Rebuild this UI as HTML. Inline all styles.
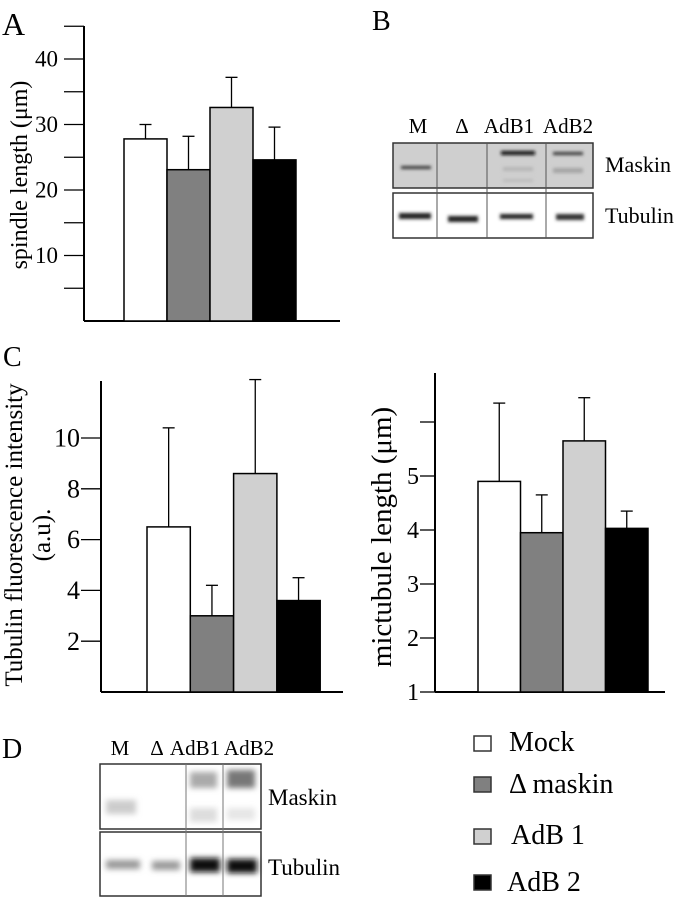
<!DOCTYPE html>
<html><head><meta charset="utf-8"><style>
html,body{margin:0;padding:0;background:#fff}
svg{display:block;font-family:"Liberation Serif",serif}
</style></head><body>
<svg id="fig" width="681" height="899" viewBox="0 0 681 899">
<defs>
<filter id="bl" x="-20%" y="-100%" width="140%" height="300%"><feGaussianBlur stdDeviation="1.6"/></filter>
<filter id="bl2" x="-20%" y="-100%" width="140%" height="300%"><feGaussianBlur stdDeviation="3"/></filter>
</defs>
<text x="2" y="35" font-size="32">A</text>
<text x="372" y="30" font-size="28">B</text>
<text x="3" y="366" font-size="28">C</text>
<text x="2" y="758" font-size="28">D</text>
<g id="chartA"></g>
<g id="chartC1"></g>
<g id="chartC2"></g>

<!-- Blot B -->
<g>
<text x="418" y="133" font-size="21" text-anchor="middle">M</text>
<text x="462" y="133" font-size="21" text-anchor="middle">Δ</text>
<text x="509" y="133" font-size="21" text-anchor="middle">AdB1</text>
<text x="568" y="133" font-size="21" text-anchor="middle">AdB2</text>
<rect x="393" y="143" width="200" height="45" fill="#cfcfcf" stroke="#333" stroke-width="1.5"/>
<g filter="url(#bl)">
<rect x="401" y="166" width="30" height="3" fill="#333"/>
<rect x="501" y="151" width="34" height="4" fill="#111"/>
<rect x="553" y="152" width="30" height="3" fill="#333"/>
<rect x="503" y="167" width="30" height="4" fill="#b5b5b5"/>
<rect x="553" y="168" width="30" height="5" fill="#a5a5a5"/>
<rect x="503" y="179" width="30" height="3" fill="#bbb"/>
</g>
<rect x="393" y="193" width="200" height="45" fill="#fff" stroke="#333" stroke-width="1.5"/>
<g filter="url(#bl)">
<rect x="399" y="213" width="32" height="6" fill="#222"/>
<rect x="448" y="216" width="30" height="6" fill="#222"/>
<rect x="500" y="214" width="33" height="5" fill="#222"/>
<rect x="556" y="214" width="28" height="6" fill="#333"/>
</g>
<g stroke="#555" stroke-width="1">
<line x1="437" y1="143" x2="437" y2="238"/><line x1="487" y1="143" x2="487" y2="238"/><line x1="546" y1="143" x2="546" y2="238"/>
</g>
<text x="605" y="172" font-size="22">Maskin</text>
<text x="605" y="223" font-size="22">Tubulin</text>
</g>

<!-- Blot D -->
<g>
<text x="120" y="755" font-size="21" text-anchor="middle">M</text>
<text x="157" y="755" font-size="21" text-anchor="middle">Δ</text>
<text x="195" y="755" font-size="21" text-anchor="middle">AdB1</text>
<text x="249" y="755" font-size="21" text-anchor="middle">AdB2</text>
<rect x="100" y="764" width="161" height="65" fill="#fff" stroke="#333" stroke-width="1.5"/>
<g filter="url(#bl2)">
<rect x="106" y="800" width="30" height="14" fill="#ccc"/>
<rect x="190" y="772" width="27" height="16" fill="#aaa"/>
<rect x="227" y="770" width="28" height="18" fill="#777"/>
<rect x="190" y="808" width="27" height="14" fill="#ddd"/>
<rect x="227" y="808" width="28" height="12" fill="#e6e6e6"/>
</g>
<rect x="100" y="832" width="161" height="64" fill="#fff" stroke="#333" stroke-width="1.5"/>
<g filter="url(#bl2)">
<rect x="106" y="860" width="34" height="9" fill="#999"/>
<rect x="152" y="861" width="28" height="9" fill="#999"/>
<rect x="190" y="858" width="30" height="14" fill="#111"/>
<rect x="227" y="859" width="30" height="14" fill="#111"/>
</g>
<g stroke="#777" stroke-width="1">
<line x1="186" y1="764" x2="186" y2="896"/><line x1="223" y1="764" x2="223" y2="896"/>
</g>
<text x="268" y="805" font-size="23">Maskin</text>
<text x="268" y="875" font-size="23">Tubulin</text>
</g>

<!-- Legend -->
<g>
<g><rect x="474" y="736" width="17" height="15" fill="#fff" stroke="#333" stroke-width="1.5"/><text x="509" y="751" font-size="28">Mock</text></g>
<g><rect x="474" y="777" width="17" height="15" fill="#808080" stroke="#333" stroke-width="1.5"/><text x="509" y="793" font-size="28">Δ maskin</text></g>
<g><rect x="474" y="829" width="17" height="15" fill="#d0d0d0" stroke="#333" stroke-width="1.5"/><text x="511" y="844" font-size="28">AdB 1</text></g>
<g><rect x="474" y="875" width="17" height="15" fill="#000" stroke="#333" stroke-width="1.5"/><text x="507" y="891" font-size="28">AdB 2</text></g>
</g>
</svg>
<script>
const categories = ["Mock", "Δ maskin", "AdB 1", "AdB 2"];
const colors = ["#ffffff", "#808080", "#d0d0d0", "#000000"];
const spindleValues = [27.8, 23.1, 32.6, 24.6];
const spindleErrors = [2.2, 5.1, 4.6, 5.0];
const spindleTicks = [10, 20, 30, 40];
const spindleMinor = [5, 15, 25, 35, 45];
const fluorValues = [6.5, 3.0, 8.6, 3.6];
const fluorErrors = [3.9, 1.2, 3.7, 0.9];
const fluorTicks = [2, 4, 6, 8, 10];
const mtValues = [4.9, 3.95, 5.65, 4.03];
const mtErrors = [1.45, 0.7, 0.8, 0.32];
const mtTicks = [1, 2, 3, 4, 5, 6];
const mtTickLabels = ["1", "2", "3", "4", "5", ""];

const NS = "http://www.w3.org/2000/svg";
function mk(parent, tag, attrs) {
  const el = document.createElementNS(NS, tag);
  for (const k in attrs) el.setAttribute(k, attrs[k]);
  parent.appendChild(el);
  return el;
}
function drawChart(gid, cfg) {
  const g = document.getElementById(gid);
  const y = v => cfg.y0 - (v - cfg.vmin) * cfg.scale;
  const ax = mk(g, "line", {x1: cfg.ax, y1: cfg.axTop, x2: cfg.ax, y2: cfg.y0, stroke: "#000", "stroke-width": 2});
  
  
  const bx = mk(g, "line", {x1: cfg.ax, y1: cfg.y0, x2: cfg.axRight, y2: cfg.y0, stroke: "#000", "stroke-width": 2});
  
  
  cfg.ticks.forEach((t, i) => {
    const tl = mk(g, "line", {x1: cfg.ax - cfg.tickLen, y1: y(t), x2: cfg.ax, y2: y(t), stroke: "#000", "stroke-width": 1.3});
    
    
    const lbl = cfg.tickLabels ? cfg.tickLabels[i] : String(t);
    if (lbl) {
      const tx = mk(g, "text", {x: cfg.ax - cfg.tickLen - cfg.gap, y: y(t) + cfg.fs * 0.33, "font-size": cfg.fs, "text-anchor": "end"});
      tx.textContent = lbl;
      
      
    }
  });
  (cfg.minor || []).forEach(t => {
    const tl = mk(g, "line", {x1: cfg.ax - cfg.tickLen, y1: y(t), x2: cfg.ax, y2: y(t), stroke: "#000", "stroke-width": 1.3});
    
    
  });
  cfg.values.forEach((v, i) => {
    const x0 = cfg.bx0 + i * cfg.bw;
    const cx = x0 + cfg.bw / 2;
    const e = mk(g, "line", {x1: cx, y1: y(v), x2: cx, y2: y(v + cfg.errors[i]), stroke: "#000", "stroke-width": 1.3});
    
    
    const c = mk(g, "line", {x1: cx - 6, y1: y(v + cfg.errors[i]), x2: cx + 6, y2: y(v + cfg.errors[i]), stroke: "#000", "stroke-width": 1.3});
    
    
    const r = mk(g, "rect", {x: x0, y: y(v), width: cfg.bw, height: cfg.y0 - y(v), fill: colors[i], stroke: "#000", "stroke-width": 1.5});
    
    
  });
  cfg.labels.forEach(L => {
    const t = mk(g, "text", {x: L.x, y: L.y, "font-size": L.fs, "text-anchor": "middle", transform: "rotate(-90 " + L.x + " " + L.y + ")"});
    t.textContent = L.text;
    
    
  });
}
drawChart("chartA", {y0: 321, vmin: 0, scale: 6.55, ax: 84, axTop: 26, axRight: 340, tickLen: 20, fs: 23, gap: 6,
  ticks: spindleTicks, minor: spindleMinor, values: spindleValues, errors: spindleErrors, bx0: 124, bw: 43,
  labels: [{x: 27, y: 175, fs: 24, text: "spindle length (μm)"}]});
drawChart("chartC1", {y0: 692, vmin: 0, scale: 25.4, ax: 101, axTop: 381, axRight: 343, tickLen: 20, fs: 26, gap: 1,
  ticks: fluorTicks, values: fluorValues, errors: fluorErrors, bx0: 147, bw: 43.3,
  labels: [{x: 22, y: 535, fs: 25, text: "Tubulin fluorescence intensity"}, {x: 50, y: 535, fs: 25, text: "(a.u)."}]});
drawChart("chartC2", {y0: 692, vmin: 1, scale: 54, ax: 435, axTop: 373, axRight: 665, tickLen: 15, fs: 24, gap: 1,
  ticks: mtTicks, tickLabels: mtTickLabels, values: mtValues, errors: mtErrors, bx0: 478, bw: 42.5,
  labels: [{x: 391, y: 537, fs: 29, text: "mictubule length (μm)"}]});
</script>
</body></html>
